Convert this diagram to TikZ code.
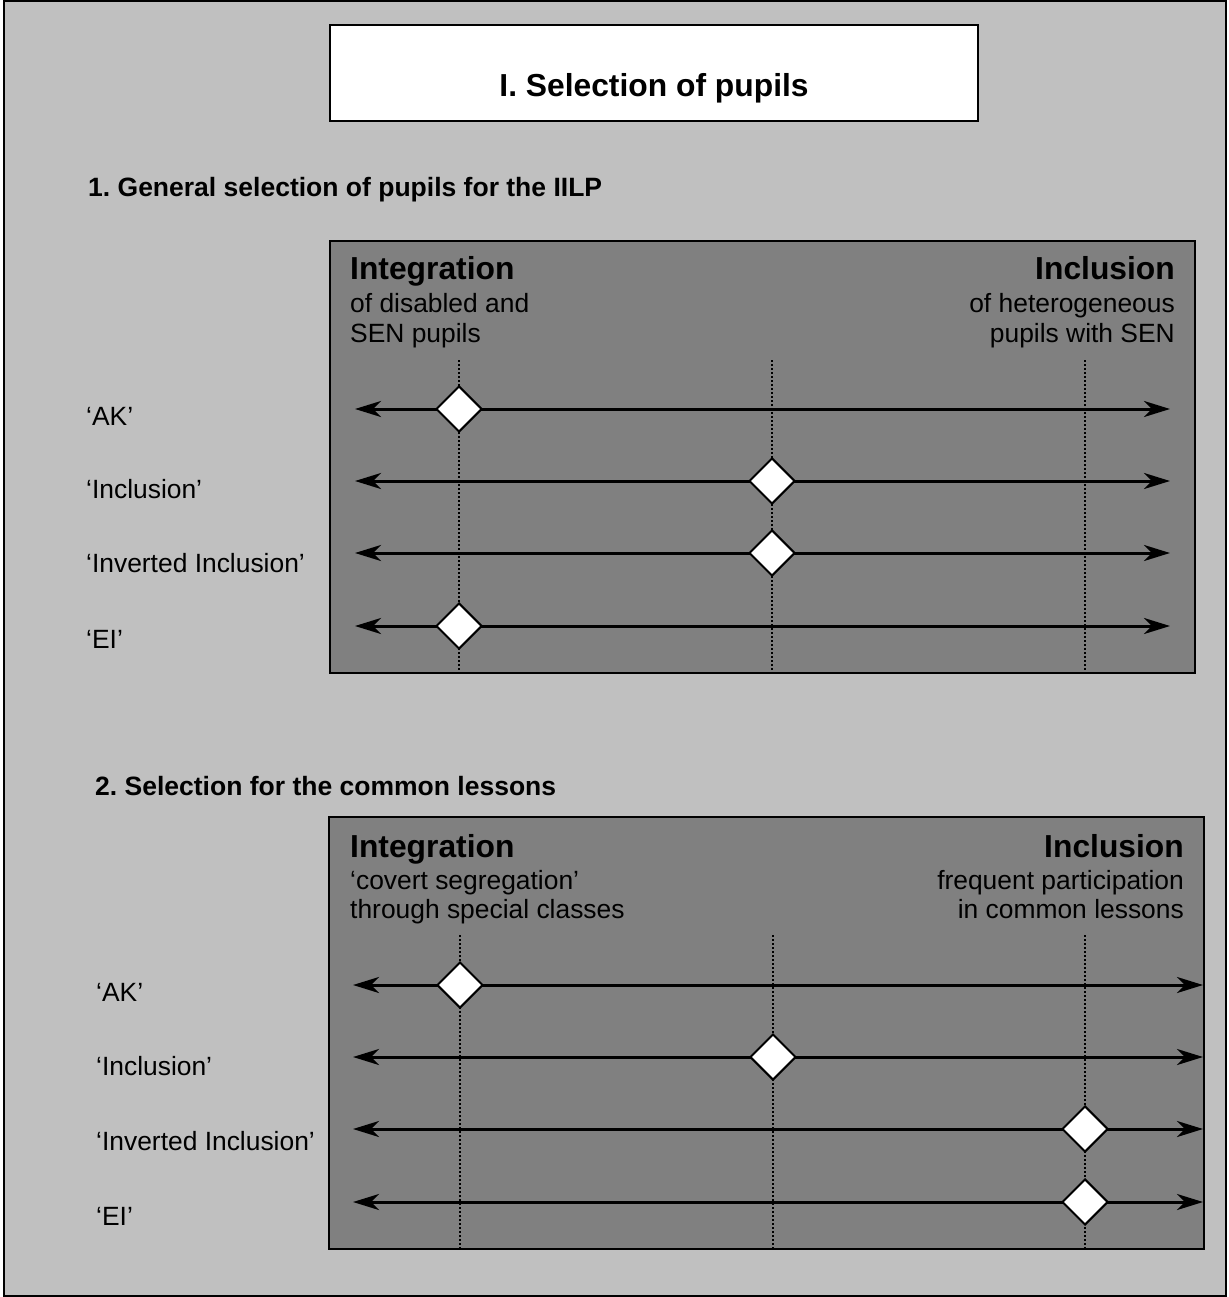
\documentclass[tikz,border=0pt]{standalone}
\usepackage{fontspec}
\setmainfont{Liberation Sans}
\usetikzlibrary{shapes.geometric,arrows.meta}
\definecolor{outergray}{HTML}{C0C0C0}
\definecolor{boxgray}{HTML}{808080}
\frenchspacing
\tikzset{
  frame/.style={draw=black, line width=2pt},
  body/.style={font=\fontsize{26.4}{31}\selectfont, inner sep=0pt},
  heading/.style={font=\fontsize{26.5}{31}\selectfont\bfseries, inner sep=0pt},
  bighead/.style={font=\fontsize{31.8}{36}\selectfont\bfseries, inner sep=0pt},
  guide/.style={line width=1.5pt, dash pattern=on 1.5pt off 2.5pt},
  scale arrow/.style={line width=3pt, {Stealth[length=26pt,width=16pt,inset=8pt]}-{Stealth[length=26pt,width=16pt,inset=8pt]}},
  marker/.style={diamond, draw=black, line width=2pt, fill=white, minimum width=46pt, minimum height=46pt, inner sep=0pt},
}
\begin{document}
\begin{tikzpicture}[x=1pt,y=-1pt]
\useasboundingbox (0,0) rectangle (1228,1297);
% outer frame
\draw[frame, fill=outergray] (4,1) rectangle (1226,1296);
% title
\draw[frame, fill=white] (330,25) rectangle (978,121);
\node[bighead, anchor=base] (title) at (654,97) {I. Selection of pupils};

% ---------- Section 1 ----------
\node[heading, anchor=base west] (h1) at (88,197) {1. General selection of pupils for the IILP};
\draw[frame, fill=boxgray] (330,241) rectangle (1195,673);
\node[bighead, anchor=base west] (a1) at (350,279) {Integration};
\node[body, anchor=base west] (a2) at (350,312) {of disabled and};
\node[body, anchor=base west] (a3) at (350,342) {SEN pupils};
\node[bighead, anchor=base east] (b1) at (1175,279) {Inclusion};
\node[body, anchor=base east] (b2) at (1175,312) {of heterogeneous};
\node[body, anchor=base east] (b3) at (1175,342) {pupils with SEN};

\coordinate (g1t) at (459,360); \coordinate (g1b) at (459,672);
\coordinate (g2t) at (772,360); \coordinate (g2b) at (772,672);
\coordinate (g3t) at (1085,360); \coordinate (g3b) at (1085,672);
\draw[guide] (g1t) -- (g1b);
\draw[guide] (g2t) -- (g2b);
\draw[guide] (g3t) -- (g3b);

\node[body, anchor=base west] (l1) at (86,425) {‘AK’};
\node[body, anchor=base west] (l2) at (86,498) {‘Inclusion’};
\node[body, anchor=base west] (l3) at (86,572) {‘Inverted Inclusion’};
\node[body, anchor=base west] (l4) at (86,648) {‘EI’};

\coordinate (s1L) at (355,409); \coordinate (s1R) at (1170,409);
\coordinate (s2L) at (355,481); \coordinate (s2R) at (1170,481);
\coordinate (s3L) at (355,553); \coordinate (s3R) at (1170,553);
\coordinate (s4L) at (355,626); \coordinate (s4R) at (1170,626);
\draw[scale arrow] (s1L) -- (s1R);
\draw[scale arrow] (s2L) -- (s2R);
\draw[scale arrow] (s3L) -- (s3R);
\draw[scale arrow] (s4L) -- (s4R);
\node[marker] (m1) at (459,409) {};
\node[marker] (m2) at (772,481) {};
\node[marker] (m3) at (772,553) {};
\node[marker] (m4) at (459,626) {};

% ---------- Section 2 ----------
\node[heading, anchor=base west] (h2) at (95,795) {2. Selection for the common lessons};
\draw[frame, fill=boxgray] (329,817) rectangle (1204,1249);
\node[bighead, anchor=base west] (c1) at (350,857) {Integration};
\node[body, anchor=base west] (c2) at (350,889) {‘covert segregation’};
\node[body, anchor=base west] (c3) at (350,918) {through special classes};
\node[bighead, anchor=base east] (e1) at (1184,857) {Inclusion};
\node[body, anchor=base east] (e2) at (1184,889) {frequent participation};
\node[body, anchor=base east] (e3) at (1184,918) {in common lessons};

\coordinate (k1t) at (460,935); \coordinate (k1b) at (460,1248);
\coordinate (k2t) at (773,935); \coordinate (k2b) at (773,1248);
\coordinate (k3t) at (1085,935); \coordinate (k3b) at (1085,1248);
\draw[guide] (k1t) -- (k1b);
\draw[guide] (k2t) -- (k2b);
\draw[guide] (k3t) -- (k3b);

\node[body, anchor=base west] (n1) at (96,1001) {‘AK’};
\node[body, anchor=base west] (n2) at (96,1075) {‘Inclusion’};
\node[body, anchor=base west] (n3) at (96,1150) {‘Inverted Inclusion’};
\node[body, anchor=base west] (n4) at (96,1225) {‘EI’};

\coordinate (t1L) at (353,985); \coordinate (t1R) at (1203,985);
\coordinate (t2L) at (353,1057); \coordinate (t2R) at (1203,1057);
\coordinate (t3L) at (353,1129); \coordinate (t3R) at (1203,1129);
\coordinate (t4L) at (353,1202); \coordinate (t4R) at (1203,1202);
\draw[scale arrow] (t1L) -- (t1R);
\draw[scale arrow] (t2L) -- (t2R);
\draw[scale arrow] (t3L) -- (t3R);
\draw[scale arrow] (t4L) -- (t4R);
\node[marker] (p1) at (460,985) {};
\node[marker] (p2) at (773,1057) {};
\node[marker] (p3) at (1085,1129) {};
\node[marker] (p4) at (1085,1202) {};
\end{tikzpicture}
\end{document}
